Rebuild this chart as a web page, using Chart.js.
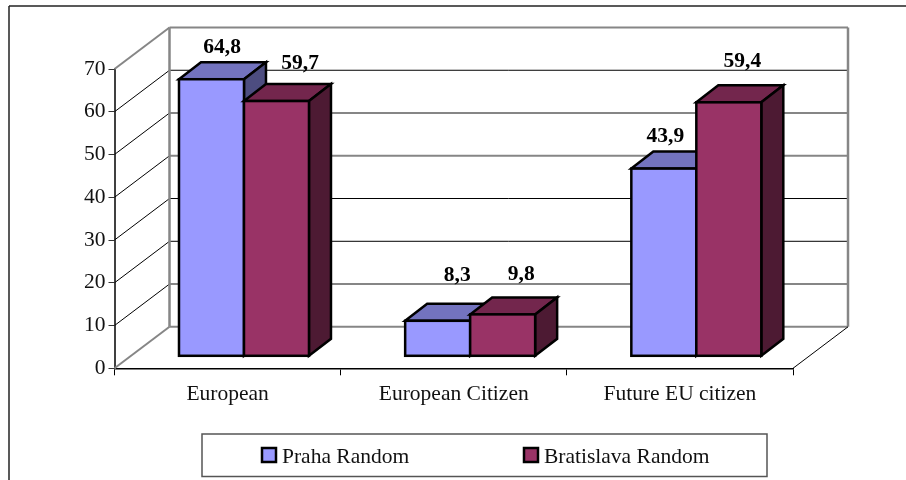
<!DOCTYPE html>
<html>
<head>
<meta charset="utf-8">
<title>Chart</title>
<script src="https://cdn.jsdelivr.net/npm/chart.js@4/dist/chart.umd.min.js"></script>
<style>
  html, body { margin: 0; padding: 0; background: #fff; }
  canvas { display: block; }
</style>
</head>
<body>
<canvas id="chart1" width="906" height="480"></canvas>
<script>
// chart values
const categories = ['European', 'European Citizen', 'Future EU citizen'];
const seriesNames = ['Praha Random', 'Bratislava Random'];
const prahaValues = [64.8, 8.3, 43.9];
const bratislavaValues = [59.7, 9.8, 59.4];

// hand-placed value labels, relative to the bar top
const labelNudgeX = [[27, 36, 18], [40, 35, 30]];
const labelNudgeY = [[-44, -57, -44], [-50, -52, -53]];

const FONT = '"Liberation Serif", "Times New Roman", serif';
const FONT_SIZE = 21.5;
const EDGE_WIDTH = 2.5;
const frontColors = ['#9999FF', '#993366'];
const topColors = ['#7373BF', '#73264D'];
const sideColors = ['#4D4D80', '#4D1A33'];

// fake 3D offsets: wall depth, and where bars stand on the floor
const wallDX = 55, wallDY = -41.5;
const barShiftX = 16.4, barShiftY = -12;
const barDX = 22, barDY = -17;
const blackGridLevels = [60, 30, 20];

function line(ctx, x1, y1, x2, y2, color, width) {
    ctx.strokeStyle = color;
    ctx.lineWidth = width;
    ctx.beginPath();
    ctx.moveTo(x1, y1);
    ctx.lineTo(x2, y2);
    ctx.stroke();
}

function poly(ctx, pts, fill) {
    ctx.fillStyle = fill;
    ctx.strokeStyle = '#000';
    ctx.lineWidth = EDGE_WIDTH;
    ctx.lineJoin = 'miter';
    ctx.beginPath();
    pts.forEach((p, i) => i ? ctx.lineTo(p[0], p[1]) : ctx.moveTo(p[0], p[1]));
    ctx.closePath();
    ctx.fill();
    ctx.stroke();
}

function drawWalls(chart) {
    const ctx = chart.ctx, y = chart.scales.y, area = chart.chartArea;
    const backL = area.left + wallDX, backR = area.right + wallDX;
    y.ticks.forEach(t => {
        const py = y.getPixelForValue(t.value);
        const black = blackGridLevels.includes(t.value);
        const edge = t.value === 0 || t.value === 70;
        line(ctx, area.left, py, backL, py + wallDY, edge ? '#868686' : '#000', edge ? 2 : 1);
        line(ctx, backL, py + wallDY, backR, py + wallDY, black ? '#000' : '#868686', black ? 1 : 2);
    });
    const top = y.getPixelForValue(70) + wallDY, bottom = y.getPixelForValue(0) + wallDY;
    line(ctx, backL, top, backL, bottom, '#868686', 2.5);
    line(ctx, backR, top, backR, bottom, '#868686', 2.5);
    line(ctx, area.right, area.bottom, backR, bottom, '#000', 1);
}

// left series first, so the right one covers its side face
function drawBars(chart) {
    const ctx = chart.ctx;
    chart.data.datasets.forEach((ds, i) => {
        const meta = chart.getDatasetMeta(i);
        ctx.save();
        ctx.translate(barShiftX, barShiftY);
        meta.data.forEach(bar => {
            const l = bar.x - bar.width / 2, r = bar.x + bar.width / 2;
            poly(ctx, [[l, bar.y], [l + barDX, bar.y + barDY], [r + barDX, bar.y + barDY], [r, bar.y]], topColors[i]);
            poly(ctx, [[r, bar.y], [r + barDX, bar.y + barDY], [r + barDX, bar.base + barDY], [r, bar.base]], sideColors[i]);
        });
        meta.controller.draw();
        ctx.strokeStyle = '#000';
        ctx.lineWidth = EDGE_WIDTH;
        meta.data.forEach(bar => {
            ctx.strokeRect(bar.x - bar.width / 2, bar.y, bar.width, bar.base - bar.y);
        });
        ctx.restore();
    });
}

function drawLabels(chart) {
    const ctx = chart.ctx;
    // value labels, decimal comma
    ctx.fillStyle = '#000';
    ctx.font = 'bold ' + FONT_SIZE + 'px ' + FONT;
    ctx.textAlign = 'center';
    ctx.textBaseline = 'middle';
    chart.data.datasets.forEach((ds, i) => {
        chart.getDatasetMeta(i).data.forEach((bar, j) => {
            const text = String(ds.data[j]).replace('.', ',');
            ctx.fillText(text, bar.x + labelNudgeX[i][j], bar.y + labelNudgeY[i][j]);
        });
    });
}

function drawLegend(chart) {
    const ctx = chart.ctx;
    ctx.strokeStyle = '#555';
    ctx.lineWidth = 1.5;
    ctx.strokeRect(202, 434, 565, 42.5);
    const swatchX = [262, 524];
    ctx.font = FONT_SIZE + 'px ' + FONT;
    ctx.textAlign = 'left';
    ctx.textBaseline = 'middle';
    seriesNames.forEach((name, i) => {
        ctx.fillStyle = frontColors[i];
        ctx.fillRect(swatchX[i], 448, 14, 14);
        ctx.strokeStyle = '#000';
        ctx.lineWidth = EDGE_WIDTH;
        ctx.strokeRect(swatchX[i], 448, 14, 14);
        ctx.fillStyle = '#111';
        ctx.fillText(name, swatchX[i] + 20, 457);
    });
}

const frame3d = {
    id: 'frame3d',
    beforeDraw(chart) {
        const ctx = chart.ctx;
        line(ctx, 9, 6, 906, 6, '#222', 1.5);
        line(ctx, 9, 6, 9, 480, '#222', 1.5);
    },
    beforeDatasetsDraw(chart) {
        drawWalls(chart);
        drawBars(chart);
        drawLabels(chart);
        drawLegend(chart);
        return false; // already painted, in our own order
    }
};

function initializeChart() {
    const ctx = document.getElementById('chart1').getContext('2d');
    new Chart(ctx, {
        type: 'bar',
        data: {
            labels: categories,
            datasets: [
                { label: seriesNames[0], data: prahaValues, backgroundColor: frontColors[0] },
                { label: seriesNames[1], data: bratislavaValues, backgroundColor: frontColors[1] }
            ]
        },
        options: {
            responsive: false,
            animation: false,
            categoryPercentage: 0.5747,
            barPercentage: 1,
            layout: { padding: { top: 69, right: 113, bottom: 0, left: 0 } },
            plugins: { legend: { display: false }, tooltip: { enabled: false } },
            scales: {
                x: {
                    afterFit(scale) { scale.height = 111.7; },
                    grid: { drawOnChartArea: false, tickLength: 7, color: '#000', offset: true },
                    border: { color: '#000', width: 1.5 },
                    ticks: { color: '#111', font: { family: FONT, size: FONT_SIZE }, padding: 6.5, maxRotation: 0 }
                },
                y: {
                    min: 0,
                    max: 70,
                    afterFit(scale) { scale.width = 114.5; },
                    grid: { drawOnChartArea: false, tickLength: 6, color: '#333' },
                    border: { color: '#404040', width: 2 },
                    ticks: { stepSize: 10, color: '#111', font: { family: FONT, size: FONT_SIZE }, padding: 3 }
                }
            }
        },
        plugins: [frame3d]
    });
}

window.onload = initializeChart;
</script>
</body>
</html>
